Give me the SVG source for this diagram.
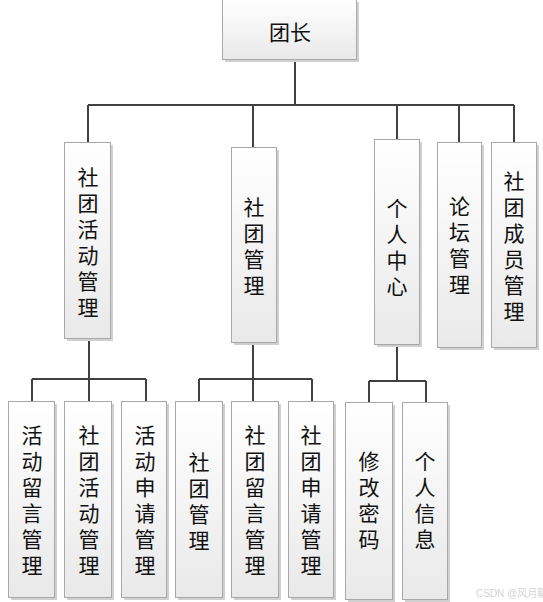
<svg xmlns="http://www.w3.org/2000/svg" width="543" height="602" viewBox="0 0 543 602">
<defs>
<linearGradient id="g" x1="0" y1="0" x2="0" y2="1">
<stop offset="0" stop-color="#ffffff"/>
<stop offset="1" stop-color="#e9e9e9"/>
</linearGradient>
<style>
.box{fill:url(#g);stroke:#a8a8a8;stroke-width:1}
.sh{fill:#d0d0d0}
.t{font-family:"Noto Sans CJK SC","Noto Sans",sans-serif;font-size:21px;fill:#111;text-anchor:middle;dominant-baseline:central}
.v{font-family:"Noto Sans CJK SC","Noto Sans",sans-serif;font-size:21px;fill:#111;text-anchor:middle;writing-mode:vertical-rl;letter-spacing:5px}
.c{stroke:#404040;stroke-width:2;fill:none}
.wm{font-family:"Liberation Sans","Noto Sans CJK SC",sans-serif;font-size:10px;fill:#d4d4d4}
</style>
</defs>
<g id="connectors">
<path class="c" d="M295,60V105M88,105H514M88,105V143M253,105V148M397,105V140M459,105V143M514,105V143"/>
<path class="c" d="M89,339V379M32,379H146M32,379V402M89,379V402M146,379V402"/>
<path class="c" d="M253,343V379M199,379H312M199,379V402M253,379V402M312,379V402"/>
<path class="c" d="M397,345V381M369,381H426M369,381V403M426,381V403"/>
</g>
<g id="root"><rect class="sh" x="225" y="2" width="134" height="60"/><rect class="box" x="222.5" y="-0.5" width="134" height="60"/><text class="t" x="290" y="31" font-size="22">团长</text></g>
<g id="n1"><rect class="sh" x="67" y="145" width="46" height="196"/><rect class="box" x="64.5" y="142.5" width="46" height="196"/><text class="v" x="88" y="244.5">社团活动管理</text></g>
<g id="n2"><rect class="sh" x="234" y="150" width="45" height="195"/><rect class="box" x="231.5" y="147.5" width="45" height="195"/><text class="v" x="254" y="248.5">社团管理</text></g>
<g id="n3"><rect class="sh" x="377" y="142" width="45" height="205"/><rect class="box" x="374.5" y="139.5" width="45" height="205"/><text class="v" x="397" y="249.5">个人中心</text></g>
<g id="n4"><rect class="sh" x="440" y="145" width="44" height="205"/><rect class="box" x="437.5" y="142.5" width="44" height="205"/><text class="v" x="459.5" y="247.5">论坛管理</text></g>
<g id="n5"><rect class="sh" x="494" y="145" width="45" height="205"/><rect class="box" x="491.5" y="142.5" width="45" height="205"/><text class="v" x="514" y="248.5">社团成员管理</text></g>
<g id="a1"><rect class="sh" x="11" y="404" width="46" height="196"/><rect class="box" x="8.5" y="401.5" width="46" height="196"/><text class="v" x="32" y="502.5">活动留言管理</text></g>
<g id="a2"><rect class="sh" x="67" y="404" width="47" height="196"/><rect class="box" x="64.5" y="401.5" width="47" height="196"/><text class="v" x="89" y="502.5">社团活动管理</text></g>
<g id="a3"><rect class="sh" x="124" y="404" width="45" height="196"/><rect class="box" x="121.5" y="401.5" width="45" height="196"/><text class="v" x="145" y="502.5">活动申请管理</text></g>
<g id="b1"><rect class="sh" x="178" y="404" width="47" height="196"/><rect class="box" x="175.5" y="401.5" width="47" height="196"/><text class="v" x="199" y="503.5">社团管理</text></g>
<g id="b2"><rect class="sh" x="234" y="404" width="47" height="196"/><rect class="box" x="231.5" y="401.5" width="47" height="196"/><text class="v" x="255" y="502.5">社团留言管理</text></g>
<g id="b3"><rect class="sh" x="291" y="404" width="45" height="196"/><rect class="box" x="288.5" y="401.5" width="45" height="196"/><text class="v" x="311" y="502.5">社团申请管理</text></g>
<g id="c1"><rect class="sh" x="348" y="405" width="47" height="197"/><rect class="box" x="345.5" y="402.5" width="47" height="197"/><text class="v" x="369" y="502.5">修改密码</text></g>
<g id="c2"><rect class="sh" x="405" y="405" width="45" height="197"/><rect class="box" x="402.5" y="402.5" width="45" height="197"/><text class="v" x="425" y="502.5">个人信息</text></g>
<text class="wm" x="476" y="597">CSDN @风月聊</text>
</svg>
